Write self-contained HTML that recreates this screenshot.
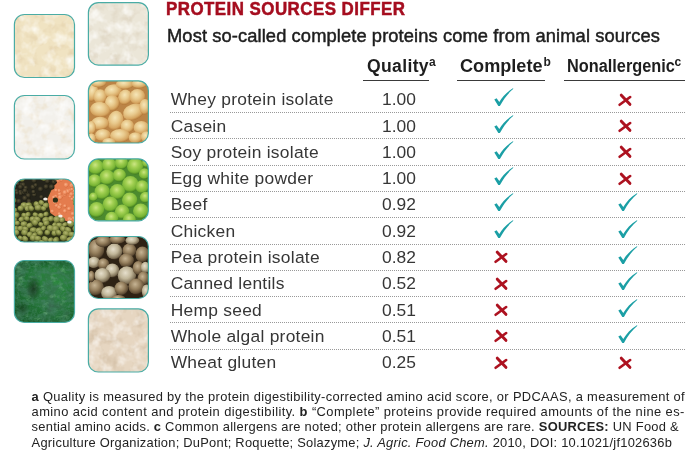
<!DOCTYPE html>
<html><head><meta charset="utf-8">
<style>
*{margin:0;padding:0;box-sizing:border-box}
html,body{width:700px;height:464px;background:#fff;overflow:hidden}
body{position:relative;font-family:"Liberation Sans",Arial,sans-serif;color:#2a2a2a}
.t{position:absolute;white-space:nowrap;line-height:1}
#title{left:166.2px;top:0.1px;font-size:18.8px;font-weight:bold;color:#a50d1f;letter-spacing:0.52px;transform:scaleX(0.9);transform-origin:0 0;-webkit-text-stroke:0.5px #a50d1f}
#sub{left:167px;top:28.2px;font-size:17.6px;color:#1f1f1f;letter-spacing:0.1px;-webkit-text-stroke:0.45px #1a1a1a;transform:scaleX(1.04);transform-origin:0 0}
.h{font-weight:bold;font-size:17.6px;color:#1e1e1e;top:58.3px}
.sp{font-weight:bold;font-size:12px;color:#1e1e1e;top:56.4px}
.ul{position:absolute;height:1.2px;background:#3a3a3a;top:79.6px}
.name{left:170.7px;font-size:17.4px;color:#363636;letter-spacing:0.27px}
.val{left:382px;font-size:17.4px;color:#363636}
.sep{position:absolute;left:170px;width:515px;height:1px;background-image:linear-gradient(to right,#999 50%,transparent 50%);background-size:2px 1px}
.fn{left:31.6px;font-size:12.9px;color:#222}
.mk{position:absolute;overflow:visible}
#tiles{position:absolute;left:0;top:0}
</style></head><body>
<svg id="tiles" width="160" height="380" viewBox="0 0 160 380"><defs>

<radialGradient id="gBean" cx="0.42" cy="0.36" r="0.64"><stop offset="0" stop-color="#f6e6b8"/><stop offset="0.45" stop-color="#e8c98c"/><stop offset="0.8" stop-color="#d6a662"/><stop offset="1" stop-color="#b47a3a"/></radialGradient>
<radialGradient id="gPea" cx="0.45" cy="0.36" r="0.64"><stop offset="0" stop-color="#cce684"/><stop offset="0.35" stop-color="#a2d052"/><stop offset="0.78" stop-color="#78b434"/><stop offset="1" stop-color="#3e7a1e"/></radialGradient>
<radialGradient id="gHempL" cx="0.42" cy="0.36" r="0.64"><stop offset="0" stop-color="#e6dfcc"/><stop offset="0.5" stop-color="#c0b598"/><stop offset="0.88" stop-color="#7c6e54"/><stop offset="1" stop-color="#443626"/></radialGradient>
<radialGradient id="gHempB" cx="0.42" cy="0.36" r="0.64"><stop offset="0" stop-color="#c6b494"/><stop offset="0.5" stop-color="#96805e"/><stop offset="0.88" stop-color="#5e4c34"/><stop offset="1" stop-color="#34281a"/></radialGradient>
<radialGradient id="gLenG" cx="0.42" cy="0.36" r="0.64"><stop offset="0" stop-color="#b2b670"/><stop offset="0.55" stop-color="#8a9248"/><stop offset="1" stop-color="#505626"/></radialGradient>
<radialGradient id="gLenK" cx="0.42" cy="0.38" r="0.62"><stop offset="0" stop-color="#5a5238"/><stop offset="0.7" stop-color="#2e2c1e"/><stop offset="1" stop-color="#1a1a10"/></radialGradient>
<radialGradient id="gLenO" cx="0.42" cy="0.38" r="0.62"><stop offset="0" stop-color="#f8b088"/><stop offset="0.7" stop-color="#ea8456"/><stop offset="1" stop-color="#d06a3c"/></radialGradient>

<filter id="fd_whey" x="0" y="0" width="100%" height="100%"><feTurbulence type="fractalNoise" baseFrequency="0.09" numOctaves="3" seed="11"/><feColorMatrix type="matrix" values="0 0 0 0 0.784 0 0 0 0 0.651 0 0 0 0 0.424 2.6 0 0 0 -1.25"/></filter>
<filter id="fl_whey" x="0" y="0" width="100%" height="100%"><feTurbulence type="fractalNoise" baseFrequency="0.09" numOctaves="3" seed="18"/><feColorMatrix type="matrix" values="0 0 0 0 0.984 0 0 0 0 0.969 0 0 0 0 0.910 2.0 0 0 0 -0.9"/></filter>
<filter id="fd_casein" x="0" y="0" width="100%" height="100%"><feTurbulence type="fractalNoise" baseFrequency="0.09" numOctaves="3" seed="21"/><feColorMatrix type="matrix" values="0 0 0 0 0.831 0 0 0 0 0.737 0 0 0 0 0.573 2.6 0 0 0 -1.25"/></filter>
<filter id="fl_casein" x="0" y="0" width="100%" height="100%"><feTurbulence type="fractalNoise" baseFrequency="0.09" numOctaves="3" seed="28"/><feColorMatrix type="matrix" values="0 0 0 0 1.000 0 0 0 0 1.000 0 0 0 0 1.000 2.0 0 0 0 -0.9"/></filter>
<filter id="fd_soyp" x="0" y="0" width="100%" height="100%"><feTurbulence type="fractalNoise" baseFrequency="0.09" numOctaves="3" seed="31"/><feColorMatrix type="matrix" values="0 0 0 0 0.729 0 0 0 0 0.659 0 0 0 0 0.533 2.5 0 0 0 -1.15"/></filter>
<filter id="fl_soyp" x="0" y="0" width="100%" height="100%"><feTurbulence type="fractalNoise" baseFrequency="0.09" numOctaves="3" seed="38"/><feColorMatrix type="matrix" values="0 0 0 0 0.980 0 0 0 0 0.973 0 0 0 0 0.949 2.0 0 0 0 -0.9"/></filter>
<filter id="fd_glut" x="0" y="0" width="100%" height="100%"><feTurbulence type="fractalNoise" baseFrequency="0.09" numOctaves="3" seed="41"/><feColorMatrix type="matrix" values="0 0 0 0 0.675 0 0 0 0 0.549 0 0 0 0 0.408 2.6 0 0 0 -1.2"/></filter>
<filter id="fl_glut" x="0" y="0" width="100%" height="100%"><feTurbulence type="fractalNoise" baseFrequency="0.09" numOctaves="3" seed="48"/><feColorMatrix type="matrix" values="0 0 0 0 0.965 0 0 0 0 0.933 0 0 0 0 0.894 2.0 0 0 0 -0.9"/></filter>
<filter id="fs1" x="0" y="0" width="100%" height="100%"><feTurbulence type="fractalNoise" baseFrequency="0.12 0.2" numOctaves="4" seed="5"/><feColorMatrix type="matrix" values="0 0 0 0 0.039 0 0 0 0 0.196 0 0 0 0 0.086 2.4 0 0 0 -0.95"/></filter>
<filter id="fs2" x="0" y="0" width="100%" height="100%"><feTurbulence type="fractalNoise" baseFrequency="0.12 0.2" numOctaves="4" seed="9"/><feColorMatrix type="matrix" values="0 0 0 0 0.235 0 0 0 0 0.549 0 0 0 0 0.282 1.6 0 0 0 -0.95"/></filter>
<filter id="fs3" x="0" y="0" width="100%" height="100%"><feTurbulence type="fractalNoise" baseFrequency="0.07" numOctaves="2" seed="13"/><feColorMatrix type="matrix" values="0 0 0 0 0.039 0 0 0 0 0.141 0 0 0 0 0.078 2.8 0 0 0 -1.3"/></filter>
<filter id="fs4" x="0" y="0" width="100%" height="100%"><feTurbulence type="fractalNoise" baseFrequency="0.35" numOctaves="2" seed="17"/><feColorMatrix type="matrix" values="0 0 0 0 0.055 0 0 0 0 0.220 0 0 0 0 0.118 1.8 0 0 0 -0.8"/></filter>
<radialGradient id="gSpir" cx="0.66" cy="0.34" r="0.85"><stop offset="0" stop-color="#2c883e"/><stop offset="0.55" stop-color="#217234"/><stop offset="1" stop-color="#155626"/></radialGradient>
<radialGradient id="gSpirD" cx="0.5" cy="0.5" r="0.5"><stop offset="0" stop-color="#142c18" stop-opacity="0.75"/><stop offset="1" stop-color="#142c18" stop-opacity="0"/></radialGradient>
<linearGradient id="gSpirT" x1="0" y1="0" x2="0" y2="1"><stop offset="0" stop-color="#124a26" stop-opacity="0.7"/><stop offset="1" stop-color="#124a26" stop-opacity="0"/></linearGradient>
<clipPath id="c_whey"><rect x="14.4" y="14.5" width="60.1" height="63.0" rx="10"/></clipPath>
<clipPath id="c_casein"><rect x="14.4" y="95.5" width="60.1" height="63.5" rx="10"/></clipPath>
<clipPath id="c_lentil"><rect x="14.4" y="179.0" width="60.1" height="63.0" rx="10"/></clipPath>
<clipPath id="c_spir"><rect x="14.4" y="260.5" width="60.1" height="62.0" rx="10"/></clipPath>
<clipPath id="c_soyp"><rect x="88.4" y="2.6" width="60.0" height="62.5" rx="10"/></clipPath>
<clipPath id="c_soyb"><rect x="88.4" y="80.8" width="60.0" height="62.2" rx="10"/></clipPath>
<clipPath id="c_pea"><rect x="88.4" y="158.8" width="60.0" height="62.0" rx="10"/></clipPath>
<clipPath id="c_hemp"><rect x="88.4" y="236.5" width="60.0" height="62.0" rx="10"/></clipPath>
<clipPath id="c_glut"><rect x="88.4" y="308.8" width="60.0" height="63.2" rx="10"/></clipPath>
</defs>
<g clip-path="url(#c_whey)"><rect x="14.4" y="14.5" width="60.1" height="63.0" fill="#f0e3c2"/><rect x="14.4" y="14.5" width="60.1" height="63.0" filter="url(#fd_whey)"/><rect x="14.4" y="14.5" width="60.1" height="63.0" filter="url(#fl_whey)"/></g>
<rect x="14.4" y="14.5" width="60.1" height="63.0" rx="10" fill="none" stroke="#4aaca5" stroke-width="1.2"/>
<g clip-path="url(#c_casein)"><rect x="14.4" y="95.5" width="60.1" height="63.5" fill="#f3f1ec"/><rect x="14.4" y="95.5" width="60.1" height="63.5" filter="url(#fd_casein)"/><rect x="14.4" y="95.5" width="60.1" height="63.5" filter="url(#fl_casein)"/></g>
<rect x="14.4" y="95.5" width="60.1" height="63.5" rx="10" fill="none" stroke="#4aaca5" stroke-width="1.2"/>
<g clip-path="url(#c_lentil)"><rect x="14.4" y="179.0" width="60.1" height="63.0" fill="#2e3216"/><polygon points="14.4,179.0 60.4,179.0 51.4,188.0 46.4,199.0 40.4,200.0 28.4,203.0 14.4,207.0" fill="#24231a"/><polygon points="59.4,179.0 75.4,179.0 75.4,224.0 66.4,221.0 57.4,218.0 50.4,213.0 47.4,199.0 52.4,188.0" fill="#e47c4e"/><circle cx="33.1" cy="187.1" r="2.7" fill="url(#gLenK)"/><circle cx="54.1" cy="181.9" r="2.6" fill="url(#gLenK)"/><circle cx="14.8" cy="206.1" r="2.5" fill="url(#gLenK)"/><circle cx="16.9" cy="183.1" r="2.3" fill="url(#gLenK)"/><circle cx="20.3" cy="192.0" r="2.3" fill="url(#gLenK)"/><circle cx="21.6" cy="184.9" r="2.3" fill="url(#gLenK)"/><circle cx="47.5" cy="181.2" r="2.6" fill="url(#gLenK)"/><circle cx="16.2" cy="190.8" r="2.1" fill="url(#gLenK)"/><circle cx="41.4" cy="197.1" r="2.2" fill="url(#gLenK)"/><circle cx="23.2" cy="184.8" r="2.6" fill="url(#gLenK)"/><circle cx="20.7" cy="193.6" r="2.2" fill="url(#gLenK)"/><circle cx="23.7" cy="192.5" r="2.1" fill="url(#gLenK)"/><circle cx="55.7" cy="180.6" r="2.0" fill="url(#gLenK)"/><circle cx="16.4" cy="181.5" r="2.4" fill="url(#gLenK)"/><circle cx="25.8" cy="187.9" r="2.3" fill="url(#gLenK)"/><circle cx="34.2" cy="180.5" r="2.8" fill="url(#gLenK)"/><circle cx="18.9" cy="201.4" r="2.7" fill="url(#gLenK)"/><circle cx="51.7" cy="187.0" r="2.8" fill="url(#gLenK)"/><circle cx="28.5" cy="200.3" r="2.2" fill="url(#gLenK)"/><circle cx="35.7" cy="185.2" r="2.1" fill="url(#gLenK)"/><circle cx="17.9" cy="183.8" r="2.1" fill="url(#gLenK)"/><circle cx="34.3" cy="194.7" r="2.4" fill="url(#gLenK)"/><circle cx="46.2" cy="186.8" r="2.6" fill="url(#gLenK)"/><circle cx="29.1" cy="201.6" r="2.4" fill="url(#gLenK)"/><circle cx="33.5" cy="191.9" r="2.2" fill="url(#gLenK)"/><circle cx="26.5" cy="192.2" r="2.3" fill="url(#gLenK)"/><circle cx="25.0" cy="190.7" r="2.5" fill="url(#gLenK)"/><circle cx="20.5" cy="187.1" r="2.5" fill="url(#gLenK)"/><circle cx="28.5" cy="196.6" r="2.6" fill="url(#gLenK)"/><circle cx="40.6" cy="189.3" r="2.7" fill="url(#gLenK)"/><circle cx="28.3" cy="195.6" r="2.5" fill="url(#gLenK)"/><circle cx="17.0" cy="193.1" r="2.1" fill="url(#gLenK)"/><circle cx="24.9" cy="198.3" r="2.7" fill="url(#gLenK)"/><circle cx="52.3" cy="211.3" r="1.8" fill="url(#gLenO)"/><circle cx="64.8" cy="194.3" r="2.1" fill="url(#gLenO)"/><circle cx="56.4" cy="205.5" r="1.9" fill="url(#gLenO)"/><circle cx="61.0" cy="196.4" r="2.2" fill="url(#gLenO)"/><circle cx="59.3" cy="213.9" r="1.8" fill="url(#gLenO)"/><circle cx="72.2" cy="184.1" r="1.8" fill="url(#gLenO)"/><circle cx="64.8" cy="206.0" r="1.8" fill="url(#gLenO)"/><circle cx="74.6" cy="213.7" r="1.7" fill="url(#gLenO)"/><circle cx="69.5" cy="219.0" r="2.3" fill="url(#gLenO)"/><circle cx="59.6" cy="193.9" r="2.1" fill="url(#gLenO)"/><circle cx="59.1" cy="190.7" r="1.9" fill="url(#gLenO)"/><circle cx="61.5" cy="218.3" r="1.9" fill="url(#gLenO)"/><circle cx="60.0" cy="197.4" r="2.4" fill="url(#gLenO)"/><circle cx="55.6" cy="196.5" r="2.0" fill="url(#gLenO)"/><circle cx="69.6" cy="190.3" r="1.8" fill="url(#gLenO)"/><circle cx="73.4" cy="185.9" r="2.2" fill="url(#gLenO)"/><circle cx="64.9" cy="211.1" r="2.1" fill="url(#gLenO)"/><circle cx="66.1" cy="185.0" r="2.4" fill="url(#gLenO)"/><circle cx="70.1" cy="196.4" r="1.7" fill="url(#gLenO)"/><circle cx="72.6" cy="213.8" r="2.0" fill="url(#gLenO)"/><circle cx="58.5" cy="180.3" r="2.3" fill="url(#gLenO)"/><circle cx="59.3" cy="207.2" r="2.3" fill="url(#gLenO)"/><circle cx="71.7" cy="185.5" r="2.3" fill="url(#gLenO)"/><circle cx="74.9" cy="194.4" r="1.6" fill="url(#gLenO)"/><circle cx="54.4" cy="197.2" r="1.8" fill="url(#gLenO)"/><circle cx="60.4" cy="204.7" r="1.7" fill="url(#gLenO)"/><circle cx="74.3" cy="185.4" r="1.8" fill="url(#gLenO)"/><circle cx="67.6" cy="191.5" r="2.4" fill="url(#gLenO)"/><circle cx="69.7" cy="208.7" r="2.1" fill="url(#gLenO)"/><circle cx="74.6" cy="193.6" r="2.3" fill="url(#gLenO)"/><circle cx="53.7" cy="197.4" r="1.9" fill="url(#gLenO)"/><circle cx="73.8" cy="220.2" r="2.3" fill="url(#gLenO)"/><circle cx="69.0" cy="208.8" r="2.0" fill="url(#gLenO)"/><circle cx="56.1" cy="190.3" r="1.8" fill="url(#gLenO)"/><circle cx="74.5" cy="197.9" r="2.2" fill="url(#gLenO)"/><circle cx="64.9" cy="192.5" r="2.4" fill="url(#gLenO)"/><circle cx="72.0" cy="199.1" r="1.7" fill="url(#gLenO)"/><circle cx="60.2" cy="179.1" r="2.1" fill="url(#gLenO)"/><circle cx="54.9" cy="202.4" r="2.1" fill="url(#gLenO)"/><circle cx="73.6" cy="185.3" r="1.8" fill="url(#gLenO)"/><circle cx="74.1" cy="190.9" r="1.9" fill="url(#gLenO)"/><circle cx="65.0" cy="206.0" r="1.7" fill="url(#gLenO)"/><circle cx="69.8" cy="179.0" r="1.8" fill="url(#gLenO)"/><circle cx="61.5" cy="179.7" r="1.8" fill="url(#gLenO)"/><circle cx="71.3" cy="194.2" r="2.1" fill="url(#gLenO)"/><circle cx="73.7" cy="218.3" r="2.1" fill="url(#gLenO)"/><circle cx="71.1" cy="219.5" r="1.8" fill="url(#gLenO)"/><circle cx="71.8" cy="189.3" r="1.6" fill="url(#gLenO)"/><ellipse cx="14.3" cy="179.2" rx="3.6" ry="3.0" transform="rotate(-33 14.3 179.2)" fill="url(#gLenG)"/><ellipse cx="21.7" cy="178.9" rx="3.1" ry="2.7" transform="rotate(21 21.7 178.9)" fill="url(#gLenG)"/><ellipse cx="43.2" cy="178.4" rx="3.2" ry="2.4" transform="rotate(25 43.2 178.4)" fill="url(#gLenG)"/><ellipse cx="57.0" cy="177.6" rx="2.7" ry="2.4" transform="rotate(-26 57.0 177.6)" fill="url(#gLenG)"/><ellipse cx="73.4" cy="177.5" rx="3.0" ry="2.7" transform="rotate(-29 73.4 177.5)" fill="url(#gLenG)"/><ellipse cx="76.8" cy="182.7" rx="2.8" ry="2.4" transform="rotate(18 76.8 182.7)" fill="url(#gLenG)"/><ellipse cx="78.5" cy="194.4" rx="3.6" ry="3.2" transform="rotate(36 78.5 194.4)" fill="url(#gLenG)"/><ellipse cx="13.2" cy="200.5" rx="3.2" ry="3.0" transform="rotate(-33 13.2 200.5)" fill="url(#gLenG)"/><ellipse cx="75.6" cy="200.0" rx="2.9" ry="2.5" transform="rotate(-17 75.6 200.0)" fill="url(#gLenG)"/><ellipse cx="24.1" cy="205.3" rx="3.5" ry="3.0" transform="rotate(2 24.1 205.3)" fill="url(#gLenG)"/><ellipse cx="28.5" cy="205.4" rx="3.6" ry="3.1" transform="rotate(-15 28.5 205.4)" fill="url(#gLenG)"/><ellipse cx="36.5" cy="204.3" rx="3.1" ry="2.8" transform="rotate(32 36.5 204.3)" fill="url(#gLenG)"/><ellipse cx="41.2" cy="202.8" rx="2.8" ry="2.6" transform="rotate(37 41.2 202.8)" fill="url(#gLenG)"/><ellipse cx="46.0" cy="205.4" rx="3.2" ry="2.8" transform="rotate(-24 46.0 205.4)" fill="url(#gLenG)"/><ellipse cx="76.1" cy="203.2" rx="3.2" ry="2.8" transform="rotate(8 76.1 203.2)" fill="url(#gLenG)"/><ellipse cx="14.6" cy="210.1" rx="2.6" ry="2.5" transform="rotate(1 14.6 210.1)" fill="url(#gLenG)"/><ellipse cx="20.7" cy="208.3" rx="3.1" ry="2.8" transform="rotate(5 20.7 208.3)" fill="url(#gLenG)"/><ellipse cx="27.7" cy="208.1" rx="3.2" ry="2.8" transform="rotate(-35 27.7 208.1)" fill="url(#gLenG)"/><ellipse cx="30.9" cy="208.3" rx="3.2" ry="2.7" transform="rotate(37 30.9 208.3)" fill="url(#gLenG)"/><ellipse cx="38.2" cy="207.7" rx="3.7" ry="3.0" transform="rotate(-2 38.2 207.7)" fill="url(#gLenG)"/><ellipse cx="43.4" cy="208.6" rx="2.8" ry="2.3" transform="rotate(25 43.4 208.6)" fill="url(#gLenG)"/><ellipse cx="16.0" cy="215.2" rx="3.7" ry="3.1" transform="rotate(-15 16.0 215.2)" fill="url(#gLenG)"/><ellipse cx="24.0" cy="215.4" rx="2.8" ry="2.5" transform="rotate(34 24.0 215.4)" fill="url(#gLenG)"/><ellipse cx="28.0" cy="214.4" rx="2.8" ry="2.5" transform="rotate(-38 28.0 214.4)" fill="url(#gLenG)"/><ellipse cx="35.3" cy="214.7" rx="2.8" ry="2.3" transform="rotate(15 35.3 214.7)" fill="url(#gLenG)"/><ellipse cx="40.9" cy="215.5" rx="3.0" ry="2.5" transform="rotate(10 40.9 215.5)" fill="url(#gLenG)"/><ellipse cx="46.1" cy="214.1" rx="2.7" ry="2.4" transform="rotate(-30 46.1 214.1)" fill="url(#gLenG)"/><ellipse cx="78.6" cy="215.1" rx="3.2" ry="2.6" transform="rotate(-24 78.6 215.1)" fill="url(#gLenG)"/><ellipse cx="14.2" cy="219.9" rx="3.2" ry="2.7" transform="rotate(-10 14.2 219.9)" fill="url(#gLenG)"/><ellipse cx="21.5" cy="219.2" rx="3.1" ry="2.6" transform="rotate(-27 21.5 219.2)" fill="url(#gLenG)"/><ellipse cx="26.8" cy="218.6" rx="2.8" ry="2.5" transform="rotate(11 26.8 218.6)" fill="url(#gLenG)"/><ellipse cx="32.6" cy="219.3" rx="3.2" ry="3.0" transform="rotate(9 32.6 219.3)" fill="url(#gLenG)"/><ellipse cx="37.1" cy="219.4" rx="3.6" ry="2.9" transform="rotate(19 37.1 219.4)" fill="url(#gLenG)"/><ellipse cx="45.9" cy="220.1" rx="3.6" ry="3.3" transform="rotate(-15 45.9 220.1)" fill="url(#gLenG)"/><ellipse cx="51.1" cy="218.7" rx="3.0" ry="2.8" transform="rotate(-23 51.1 218.7)" fill="url(#gLenG)"/><ellipse cx="57.1" cy="219.2" rx="3.8" ry="3.5" transform="rotate(-29 57.1 219.2)" fill="url(#gLenG)"/><ellipse cx="62.2" cy="220.0" rx="2.9" ry="2.6" transform="rotate(-19 62.2 220.0)" fill="url(#gLenG)"/><ellipse cx="17.3" cy="223.2" rx="2.7" ry="2.5" transform="rotate(-6 17.3 223.2)" fill="url(#gLenG)"/><ellipse cx="24.0" cy="224.0" rx="3.5" ry="2.8" transform="rotate(-8 24.0 224.0)" fill="url(#gLenG)"/><ellipse cx="29.7" cy="225.3" rx="3.4" ry="2.6" transform="rotate(-24 29.7 225.3)" fill="url(#gLenG)"/><ellipse cx="34.7" cy="222.5" rx="3.4" ry="3.2" transform="rotate(37 34.7 222.5)" fill="url(#gLenG)"/><ellipse cx="40.8" cy="224.5" rx="2.7" ry="2.3" transform="rotate(21 40.8 224.5)" fill="url(#gLenG)"/><ellipse cx="46.5" cy="223.0" rx="3.2" ry="2.8" transform="rotate(-25 46.5 223.0)" fill="url(#gLenG)"/><ellipse cx="54.6" cy="224.5" rx="2.7" ry="2.1" transform="rotate(-37 54.6 224.5)" fill="url(#gLenG)"/><ellipse cx="59.2" cy="225.2" rx="3.3" ry="2.8" transform="rotate(5 59.2 225.2)" fill="url(#gLenG)"/><ellipse cx="64.9" cy="224.5" rx="2.8" ry="2.2" transform="rotate(-24 64.9 224.5)" fill="url(#gLenG)"/><ellipse cx="70.5" cy="223.8" rx="3.6" ry="3.4" transform="rotate(34 70.5 223.8)" fill="url(#gLenG)"/><ellipse cx="78.3" cy="225.2" rx="2.7" ry="2.1" transform="rotate(36 78.3 225.2)" fill="url(#gLenG)"/><ellipse cx="15.5" cy="228.7" rx="3.2" ry="2.8" transform="rotate(-14 15.5 228.7)" fill="url(#gLenG)"/><ellipse cx="20.6" cy="228.4" rx="3.2" ry="2.7" transform="rotate(-6 20.6 228.4)" fill="url(#gLenG)"/><ellipse cx="25.3" cy="229.0" rx="3.3" ry="2.5" transform="rotate(16 25.3 229.0)" fill="url(#gLenG)"/><ellipse cx="33.4" cy="230.0" rx="3.6" ry="2.8" transform="rotate(-4 33.4 230.0)" fill="url(#gLenG)"/><ellipse cx="39.0" cy="230.4" rx="3.5" ry="2.9" transform="rotate(-24 39.0 230.4)" fill="url(#gLenG)"/><ellipse cx="43.7" cy="228.0" rx="2.8" ry="2.4" transform="rotate(-39 43.7 228.0)" fill="url(#gLenG)"/><ellipse cx="50.3" cy="228.3" rx="3.7" ry="3.3" transform="rotate(16 50.3 228.3)" fill="url(#gLenG)"/><ellipse cx="55.5" cy="228.7" rx="3.6" ry="3.2" transform="rotate(-8 55.5 228.7)" fill="url(#gLenG)"/><ellipse cx="62.8" cy="229.0" rx="3.3" ry="2.8" transform="rotate(39 62.8 229.0)" fill="url(#gLenG)"/><ellipse cx="67.8" cy="230.0" rx="3.6" ry="2.9" transform="rotate(33 67.8 230.0)" fill="url(#gLenG)"/><ellipse cx="75.8" cy="228.9" rx="3.5" ry="3.2" transform="rotate(25 75.8 228.9)" fill="url(#gLenG)"/><ellipse cx="16.1" cy="232.6" rx="3.1" ry="2.9" transform="rotate(30 16.1 232.6)" fill="url(#gLenG)"/><ellipse cx="24.5" cy="232.6" rx="3.4" ry="3.1" transform="rotate(21 24.5 232.6)" fill="url(#gLenG)"/><ellipse cx="30.0" cy="234.2" rx="3.1" ry="2.8" transform="rotate(-34 30.0 234.2)" fill="url(#gLenG)"/><ellipse cx="34.8" cy="234.9" rx="3.0" ry="2.5" transform="rotate(-39 34.8 234.9)" fill="url(#gLenG)"/><ellipse cx="40.0" cy="232.9" rx="3.0" ry="2.7" transform="rotate(10 40.0 232.9)" fill="url(#gLenG)"/><ellipse cx="47.3" cy="232.6" rx="2.9" ry="2.7" transform="rotate(13 47.3 232.6)" fill="url(#gLenG)"/><ellipse cx="54.4" cy="233.2" rx="3.0" ry="2.7" transform="rotate(6 54.4 233.2)" fill="url(#gLenG)"/><ellipse cx="58.3" cy="232.6" rx="3.2" ry="2.7" transform="rotate(40 58.3 232.6)" fill="url(#gLenG)"/><ellipse cx="65.8" cy="233.8" rx="3.4" ry="3.0" transform="rotate(21 65.8 233.8)" fill="url(#gLenG)"/><ellipse cx="71.8" cy="234.5" rx="3.8" ry="2.8" transform="rotate(9 71.8 234.5)" fill="url(#gLenG)"/><ellipse cx="78.3" cy="235.4" rx="3.5" ry="2.8" transform="rotate(-8 78.3 235.4)" fill="url(#gLenG)"/><ellipse cx="15.0" cy="238.1" rx="2.7" ry="2.1" transform="rotate(-10 15.0 238.1)" fill="url(#gLenG)"/><ellipse cx="20.3" cy="238.0" rx="2.7" ry="2.2" transform="rotate(32 20.3 238.0)" fill="url(#gLenG)"/><ellipse cx="24.9" cy="238.9" rx="3.3" ry="2.8" transform="rotate(37 24.9 238.9)" fill="url(#gLenG)"/><ellipse cx="33.0" cy="238.0" rx="3.3" ry="3.1" transform="rotate(11 33.0 238.0)" fill="url(#gLenG)"/><ellipse cx="37.7" cy="238.5" rx="3.6" ry="2.7" transform="rotate(8 37.7 238.5)" fill="url(#gLenG)"/><ellipse cx="45.0" cy="239.1" rx="3.5" ry="2.7" transform="rotate(34 45.0 239.1)" fill="url(#gLenG)"/><ellipse cx="50.7" cy="239.8" rx="2.8" ry="2.4" transform="rotate(-26 50.7 239.8)" fill="url(#gLenG)"/><ellipse cx="56.1" cy="239.9" rx="3.2" ry="2.8" transform="rotate(-35 56.1 239.9)" fill="url(#gLenG)"/><ellipse cx="63.6" cy="237.8" rx="3.7" ry="3.1" transform="rotate(2 63.6 237.8)" fill="url(#gLenG)"/><ellipse cx="69.7" cy="239.7" rx="3.3" ry="2.7" transform="rotate(-17 69.7 239.7)" fill="url(#gLenG)"/><ellipse cx="73.3" cy="238.9" rx="3.4" ry="2.9" transform="rotate(-17 73.3 238.9)" fill="url(#gLenG)"/><ellipse cx="17.8" cy="245.2" rx="3.5" ry="2.8" transform="rotate(-39 17.8 245.2)" fill="url(#gLenG)"/><ellipse cx="23.0" cy="244.2" rx="2.9" ry="2.2" transform="rotate(-27 23.0 244.2)" fill="url(#gLenG)"/><ellipse cx="30.5" cy="244.9" rx="3.5" ry="2.9" transform="rotate(32 30.5 244.9)" fill="url(#gLenG)"/><ellipse cx="36.7" cy="243.9" rx="3.5" ry="2.7" transform="rotate(39 36.7 243.9)" fill="url(#gLenG)"/><ellipse cx="41.9" cy="243.1" rx="3.7" ry="2.9" transform="rotate(32 41.9 243.1)" fill="url(#gLenG)"/><ellipse cx="48.1" cy="245.0" rx="3.1" ry="2.6" transform="rotate(38 48.1 245.0)" fill="url(#gLenG)"/><ellipse cx="53.8" cy="244.7" rx="2.9" ry="2.5" transform="rotate(35 53.8 244.7)" fill="url(#gLenG)"/><ellipse cx="58.5" cy="245.2" rx="3.5" ry="2.9" transform="rotate(38 58.5 245.2)" fill="url(#gLenG)"/><ellipse cx="66.8" cy="245.4" rx="3.6" ry="3.1" transform="rotate(-31 66.8 245.4)" fill="url(#gLenG)"/><ellipse cx="71.5" cy="244.9" rx="3.3" ry="2.8" transform="rotate(-24 71.5 244.9)" fill="url(#gLenG)"/><ellipse cx="76.9" cy="245.2" rx="2.7" ry="2.3" transform="rotate(-30 76.9 245.2)" fill="url(#gLenG)"/><ellipse cx="45.4" cy="199.0" rx="2.2" ry="1.6" fill="#f4efe8"/><ellipse cx="60.4" cy="216.0" rx="2.2" ry="1.6" fill="#f4efe8"/><ellipse cx="69.4" cy="222.0" rx="2.2" ry="1.6" fill="#f4efe8"/><circle cx="55.4" cy="200.0" r="2.6" fill="#2a3018"/></g>
<rect x="14.4" y="179.0" width="60.1" height="63.0" rx="10" fill="none" stroke="#4aaca5" stroke-width="1.2"/>
<g clip-path="url(#c_spir)"><rect x="14.4" y="260.5" width="60.1" height="62.0" fill="url(#gSpir)"/><rect x="14.4" y="260.5" width="60.1" height="9" fill="url(#gSpirT)"/><rect x="14.4" y="260.5" width="60.1" height="62.0" filter="url(#fs3)"/><rect x="14.4" y="260.5" width="60.1" height="62.0" filter="url(#fs1)"/><rect x="14.4" y="260.5" width="60.1" height="62.0" filter="url(#fs2)"/><rect x="14.4" y="260.5" width="60.1" height="62.0" filter="url(#fs4)"/><ellipse cx="33.4" cy="288.5" rx="8" ry="13" fill="url(#gSpirD)"/><ellipse cx="22.4" cy="308.5" rx="7" ry="8" fill="url(#gSpirD)" opacity="0.6"/></g>
<rect x="14.4" y="260.5" width="60.1" height="62.0" rx="10" fill="none" stroke="#4aaca5" stroke-width="1.2"/>
<g clip-path="url(#c_soyp)"><rect x="88.4" y="2.6" width="60.0" height="62.5" fill="#ebe6d8"/><rect x="88.4" y="2.6" width="60.0" height="62.5" filter="url(#fd_soyp)"/><rect x="88.4" y="2.6" width="60.0" height="62.5" filter="url(#fl_soyp)"/></g>
<rect x="88.4" y="2.6" width="60.0" height="62.5" rx="10" fill="none" stroke="#4aaca5" stroke-width="1.2"/>
<g clip-path="url(#c_soyb)"><rect x="88.4" y="80.8" width="60.0" height="62.2" fill="#bb8446"/><ellipse cx="92.4" cy="92.8" rx="5.6" ry="9.0" transform="rotate(10 92.4 92.8)" fill="url(#gBean)"/><ellipse cx="100.1" cy="96.6" rx="6.7" ry="7.3" transform="rotate(0 100.1 96.6)" fill="url(#gBean)"/><ellipse cx="113.2" cy="91.1" rx="9.0" ry="6.7" transform="rotate(-10 113.2 91.1)" fill="url(#gBean)"/><ellipse cx="124.9" cy="97.3" rx="6.7" ry="7.8" transform="rotate(20 124.9 97.3)" fill="url(#gBean)"/><ellipse cx="137.4" cy="96.8" rx="7.8" ry="7.8" transform="rotate(0 137.4 96.8)" fill="url(#gBean)"/><ellipse cx="124.9" cy="84.3" rx="9.0" ry="5.0" transform="rotate(0 124.9 84.3)" fill="url(#gBean)"/><ellipse cx="139.4" cy="83.8" rx="7.8" ry="4.5" transform="rotate(0 139.4 83.8)" fill="url(#gBean)"/><ellipse cx="98.4" cy="82.8" rx="7.8" ry="4.5" transform="rotate(0 98.4 82.8)" fill="url(#gBean)"/><ellipse cx="112.4" cy="102.8" rx="7.3" ry="7.8" transform="rotate(-20 112.4 102.8)" fill="url(#gBean)"/><ellipse cx="100.1" cy="109.8" rx="10.1" ry="7.8" transform="rotate(10 100.1 109.8)" fill="url(#gBean)"/><ellipse cx="115.4" cy="120.8" rx="7.8" ry="10.1" transform="rotate(15 115.4 120.8)" fill="url(#gBean)"/><ellipse cx="133.9" cy="111.8" rx="11.2" ry="7.8" transform="rotate(-20 133.9 111.8)" fill="url(#gBean)"/><ellipse cx="144.9" cy="106.8" rx="5.6" ry="7.8" transform="rotate(0 144.9 106.8)" fill="url(#gBean)"/><ellipse cx="100.1" cy="123.5" rx="9.0" ry="6.7" transform="rotate(0 100.1 123.5)" fill="url(#gBean)"/><ellipse cx="127.4" cy="126.3" rx="6.7" ry="6.7" transform="rotate(0 127.4 126.3)" fill="url(#gBean)"/><ellipse cx="141.4" cy="127.8" rx="7.8" ry="6.7" transform="rotate(0 141.4 127.8)" fill="url(#gBean)"/><ellipse cx="102.9" cy="135.2" rx="7.8" ry="6.2" transform="rotate(0 102.9 135.2)" fill="url(#gBean)"/><ellipse cx="120.1" cy="135.8" rx="10.1" ry="6.7" transform="rotate(0 120.1 135.8)" fill="url(#gBean)"/><ellipse cx="91.4" cy="127.8" rx="4.5" ry="6.7" transform="rotate(0 91.4 127.8)" fill="url(#gBean)"/><ellipse cx="135.4" cy="137.8" rx="6.7" ry="5.6" transform="rotate(0 135.4 137.8)" fill="url(#gBean)"/><ellipse cx="109.1" cy="141.8" rx="6.7" ry="3.9" transform="rotate(0 109.1 141.8)" fill="url(#gBean)"/><ellipse cx="91.4" cy="138.8" rx="4.5" ry="5.6" transform="rotate(0 91.4 138.8)" fill="url(#gBean)"/><ellipse cx="146.4" cy="136.8" rx="5.6" ry="5.6" transform="rotate(0 146.4 136.8)" fill="url(#gBean)"/></g>
<rect x="88.4" y="80.8" width="60.0" height="62.2" rx="10" fill="none" stroke="#4aaca5" stroke-width="1.2"/>
<g clip-path="url(#c_pea)"><rect x="88.4" y="158.8" width="60.0" height="62.0" fill="#4c8a2e"/><circle cx="96.0" cy="167.1" r="7.7" fill="url(#gPea)"/><circle cx="109.1" cy="165.0" r="7.2" fill="url(#gPea)"/><circle cx="121.4" cy="162.8" r="6.6" fill="url(#gPea)"/><circle cx="135.2" cy="166.4" r="8.2" fill="url(#gPea)"/><circle cx="107.0" cy="177.4" r="7.7" fill="url(#gPea)"/><circle cx="119.4" cy="175.3" r="6.6" fill="url(#gPea)"/><circle cx="94.6" cy="180.8" r="6.6" fill="url(#gPea)"/><circle cx="130.4" cy="184.3" r="8.2" fill="url(#gPea)"/><circle cx="142.1" cy="186.8" r="6.6" fill="url(#gPea)"/><circle cx="102.2" cy="191.8" r="7.7" fill="url(#gPea)"/><circle cx="117.4" cy="191.8" r="7.7" fill="url(#gPea)"/><circle cx="129.7" cy="200.1" r="7.7" fill="url(#gPea)"/><circle cx="110.4" cy="204.3" r="7.7" fill="url(#gPea)"/><circle cx="96.7" cy="209.8" r="7.7" fill="url(#gPea)"/><circle cx="122.1" cy="211.8" r="7.2" fill="url(#gPea)"/><circle cx="140.7" cy="211.1" r="7.7" fill="url(#gPea)"/><circle cx="145.4" cy="197.3" r="5.5" fill="url(#gPea)"/><circle cx="144.4" cy="173.8" r="5.5" fill="url(#gPea)"/><circle cx="111.8" cy="218.3" r="6.6" fill="url(#gPea)"/><circle cx="129.4" cy="219.8" r="6.6" fill="url(#gPea)"/><circle cx="93.4" cy="196.8" r="4.4" fill="url(#gPea)"/><circle cx="146.4" cy="162.8" r="4.4" fill="url(#gPea)"/></g>
<rect x="88.4" y="158.8" width="60.0" height="62.0" rx="10" fill="none" stroke="#4aaca5" stroke-width="1.2"/>
<g clip-path="url(#c_hemp)"><rect x="88.4" y="236.5" width="60.0" height="62.0" fill="#2e2214"/><ellipse cx="96.4" cy="249.5" rx="8.0" ry="10.3" fill="url(#gHempB)"/><ellipse cx="114.4" cy="251.5" rx="8.0" ry="8.0" fill="url(#gHempL)"/><ellipse cx="129.4" cy="250.5" rx="6.9" ry="6.9" fill="url(#gHempB)"/><ellipse cx="142.4" cy="254.5" rx="6.9" ry="8.0" fill="url(#gHempB)"/><ellipse cx="103.4" cy="241.5" rx="8.0" ry="5.8" fill="url(#gHempB)"/><ellipse cx="117.4" cy="239.5" rx="8.0" ry="4.6" fill="url(#gHempB)"/><ellipse cx="132.4" cy="240.5" rx="6.9" ry="4.6" fill="url(#gHempL)"/><ellipse cx="93.9" cy="262.5" rx="6.3" ry="5.8" fill="url(#gHempL)"/><ellipse cx="103.4" cy="264.0" rx="5.8" ry="5.8" fill="url(#gHempB)"/><ellipse cx="126.4" cy="260.5" rx="7.5" ry="6.9" fill="url(#gHempB)"/><ellipse cx="112.4" cy="270.5" rx="6.9" ry="6.9" fill="url(#gHempL)"/><ellipse cx="102.4" cy="275.5" rx="8.0" ry="7.5" fill="url(#gHempL)"/><ellipse cx="126.9" cy="275.5" rx="9.2" ry="9.2" fill="url(#gHempL)"/><ellipse cx="138.4" cy="268.0" rx="5.8" ry="6.9" fill="url(#gHempB)"/><ellipse cx="145.4" cy="267.5" rx="4.6" ry="5.8" fill="url(#gHempL)"/><ellipse cx="143.4" cy="278.5" rx="5.8" ry="6.9" fill="url(#gHempB)"/><ellipse cx="95.9" cy="287.5" rx="8.0" ry="8.0" fill="url(#gHempB)"/><ellipse cx="109.1" cy="293.0" rx="8.0" ry="6.9" fill="url(#gHempL)"/><ellipse cx="121.4" cy="288.5" rx="6.9" ry="6.9" fill="url(#gHempB)"/><ellipse cx="136.4" cy="286.5" rx="8.0" ry="8.0" fill="url(#gHempB)"/><ellipse cx="146.4" cy="291.5" rx="4.6" ry="6.9" fill="url(#gHempL)"/><ellipse cx="118.4" cy="298.5" rx="6.9" ry="3.4" fill="url(#gHempB)"/><ellipse cx="91.4" cy="276.5" rx="3.4" ry="5.8" fill="url(#gHempB)"/></g>
<rect x="88.4" y="236.5" width="60.0" height="62.0" rx="10" fill="none" stroke="#4aaca5" stroke-width="1.2"/>
<g clip-path="url(#c_glut)"><rect x="88.4" y="308.8" width="60.0" height="63.2" fill="#e6d6c1"/><rect x="88.4" y="308.8" width="60.0" height="63.2" filter="url(#fd_glut)"/><rect x="88.4" y="308.8" width="60.0" height="63.2" filter="url(#fl_glut)"/></g>
<rect x="88.4" y="308.8" width="60.0" height="63.2" rx="10" fill="none" stroke="#4aaca5" stroke-width="1.2"/>
</svg>
<div class="t" id="title">PROTEIN SOURCES DIFFER</div>
<div class="t" id="sub">Most so-called complete proteins come from animal sources</div>
<div class="t h" id="hq" style="left:367px;letter-spacing:0.33px">Quality</div>
<div class="t h" id="hc" style="left:459.7px;transform:scaleX(1.03);transform-origin:0 0">Complete</div>
<div class="t h" id="hn" style="left:567.4px;transform:scaleX(0.927);transform-origin:0 0">Nonallergenic</div>
<div class="t sp" style="left:429px">a</div>
<div class="t sp" style="left:543.6px">b</div>
<div class="t sp" style="left:674.6px">c</div>
<div class="ul" style="left:363px;width:66px"></div>
<div class="ul" style="left:457px;width:88px"></div>
<div class="ul" style="left:564px;width:120.5px"></div>
<div class="t name" style="top:91.37px">Whey protein isolate</div>
<div class="t val" style="top:91.37px">1.00</div>
<svg class="mk" style="left:494px;top:88.30px" width="20" height="19" viewBox="0 0 20 19"><path d="M0.3,11.6 L2.6,10.2 L5.3,13.9 C8.5,8.6 12.6,4.2 18.9,0.2 L19.4,0.8 C13.8,5.4 9.6,11.2 5.9,18.0 L4.3,18.1 Z" fill="#1b9fa5"/></svg>
<svg class="mk" style="left:617.8px;top:93.80px" width="14" height="13" viewBox="0 0 14 13"><g stroke="#ad1220" stroke-linecap="round" fill="none"><path d="M3.3,1.2 L11.9,10.3" stroke-width="3"/><path d="M12.2,3.0 L1.6,10.8" stroke-width="2.6"/></g></svg>
<div class="sep" style="top:112px"></div>
<div class="t name" style="top:117.65px">Casein</div>
<div class="t val" style="top:117.65px">1.00</div>
<svg class="mk" style="left:494px;top:114.58px" width="20" height="19" viewBox="0 0 20 19"><path d="M0.3,11.6 L2.6,10.2 L5.3,13.9 C8.5,8.6 12.6,4.2 18.9,0.2 L19.4,0.8 C13.8,5.4 9.6,11.2 5.9,18.0 L4.3,18.1 Z" fill="#1b9fa5"/></svg>
<svg class="mk" style="left:617.8px;top:120.08px" width="14" height="13" viewBox="0 0 14 13"><g stroke="#ad1220" stroke-linecap="round" fill="none"><path d="M3.3,1.2 L11.9,10.3" stroke-width="3"/><path d="M12.2,3.0 L1.6,10.8" stroke-width="2.6"/></g></svg>
<div class="sep" style="top:138px"></div>
<div class="t name" style="top:143.93px">Soy protein isolate</div>
<div class="t val" style="top:143.93px">1.00</div>
<svg class="mk" style="left:494px;top:140.86px" width="20" height="19" viewBox="0 0 20 19"><path d="M0.3,11.6 L2.6,10.2 L5.3,13.9 C8.5,8.6 12.6,4.2 18.9,0.2 L19.4,0.8 C13.8,5.4 9.6,11.2 5.9,18.0 L4.3,18.1 Z" fill="#1b9fa5"/></svg>
<svg class="mk" style="left:617.8px;top:146.36px" width="14" height="13" viewBox="0 0 14 13"><g stroke="#ad1220" stroke-linecap="round" fill="none"><path d="M3.3,1.2 L11.9,10.3" stroke-width="3"/><path d="M12.2,3.0 L1.6,10.8" stroke-width="2.6"/></g></svg>
<div class="sep" style="top:165px"></div>
<div class="t name" style="top:170.21px">Egg white powder</div>
<div class="t val" style="top:170.21px">1.00</div>
<svg class="mk" style="left:494px;top:167.14px" width="20" height="19" viewBox="0 0 20 19"><path d="M0.3,11.6 L2.6,10.2 L5.3,13.9 C8.5,8.6 12.6,4.2 18.9,0.2 L19.4,0.8 C13.8,5.4 9.6,11.2 5.9,18.0 L4.3,18.1 Z" fill="#1b9fa5"/></svg>
<svg class="mk" style="left:617.8px;top:172.64px" width="14" height="13" viewBox="0 0 14 13"><g stroke="#ad1220" stroke-linecap="round" fill="none"><path d="M3.3,1.2 L11.9,10.3" stroke-width="3"/><path d="M12.2,3.0 L1.6,10.8" stroke-width="2.6"/></g></svg>
<div class="sep" style="top:191px"></div>
<div class="t name" style="top:196.49px">Beef</div>
<div class="t val" style="top:196.49px">0.92</div>
<svg class="mk" style="left:494px;top:193.42px" width="20" height="19" viewBox="0 0 20 19"><path d="M0.3,11.6 L2.6,10.2 L5.3,13.9 C8.5,8.6 12.6,4.2 18.9,0.2 L19.4,0.8 C13.8,5.4 9.6,11.2 5.9,18.0 L4.3,18.1 Z" fill="#1b9fa5"/></svg>
<svg class="mk" style="left:618px;top:193.42px" width="20" height="19" viewBox="0 0 20 19"><path d="M0.3,11.6 L2.6,10.2 L5.3,13.9 C8.5,8.6 12.6,4.2 18.9,0.2 L19.4,0.8 C13.8,5.4 9.6,11.2 5.9,18.0 L4.3,18.1 Z" fill="#1b9fa5"/></svg>
<div class="sep" style="top:217px"></div>
<div class="t name" style="top:222.77px">Chicken</div>
<div class="t val" style="top:222.77px">0.92</div>
<svg class="mk" style="left:494px;top:219.70px" width="20" height="19" viewBox="0 0 20 19"><path d="M0.3,11.6 L2.6,10.2 L5.3,13.9 C8.5,8.6 12.6,4.2 18.9,0.2 L19.4,0.8 C13.8,5.4 9.6,11.2 5.9,18.0 L4.3,18.1 Z" fill="#1b9fa5"/></svg>
<svg class="mk" style="left:618px;top:219.70px" width="20" height="19" viewBox="0 0 20 19"><path d="M0.3,11.6 L2.6,10.2 L5.3,13.9 C8.5,8.6 12.6,4.2 18.9,0.2 L19.4,0.8 C13.8,5.4 9.6,11.2 5.9,18.0 L4.3,18.1 Z" fill="#1b9fa5"/></svg>
<div class="sep" style="top:244px"></div>
<div class="t name" style="top:249.05px">Pea protein isolate</div>
<div class="t val" style="top:249.05px">0.82</div>
<svg class="mk" style="left:493.6px;top:251.48px" width="14" height="13" viewBox="0 0 14 13"><g stroke="#ad1220" stroke-linecap="round" fill="none"><path d="M3.3,1.2 L11.9,10.3" stroke-width="3"/><path d="M12.2,3.0 L1.6,10.8" stroke-width="2.6"/></g></svg>
<svg class="mk" style="left:618px;top:245.98px" width="20" height="19" viewBox="0 0 20 19"><path d="M0.3,11.6 L2.6,10.2 L5.3,13.9 C8.5,8.6 12.6,4.2 18.9,0.2 L19.4,0.8 C13.8,5.4 9.6,11.2 5.9,18.0 L4.3,18.1 Z" fill="#1b9fa5"/></svg>
<div class="sep" style="top:270px"></div>
<div class="t name" style="top:275.33px">Canned lentils</div>
<div class="t val" style="top:275.33px">0.52</div>
<svg class="mk" style="left:493.6px;top:277.76px" width="14" height="13" viewBox="0 0 14 13"><g stroke="#ad1220" stroke-linecap="round" fill="none"><path d="M3.3,1.2 L11.9,10.3" stroke-width="3"/><path d="M12.2,3.0 L1.6,10.8" stroke-width="2.6"/></g></svg>
<svg class="mk" style="left:618px;top:272.26px" width="20" height="19" viewBox="0 0 20 19"><path d="M0.3,11.6 L2.6,10.2 L5.3,13.9 C8.5,8.6 12.6,4.2 18.9,0.2 L19.4,0.8 C13.8,5.4 9.6,11.2 5.9,18.0 L4.3,18.1 Z" fill="#1b9fa5"/></svg>
<div class="sep" style="top:296px"></div>
<div class="t name" style="top:301.61px">Hemp seed</div>
<div class="t val" style="top:301.61px">0.51</div>
<svg class="mk" style="left:493.6px;top:304.04px" width="14" height="13" viewBox="0 0 14 13"><g stroke="#ad1220" stroke-linecap="round" fill="none"><path d="M3.3,1.2 L11.9,10.3" stroke-width="3"/><path d="M12.2,3.0 L1.6,10.8" stroke-width="2.6"/></g></svg>
<svg class="mk" style="left:618px;top:298.54px" width="20" height="19" viewBox="0 0 20 19"><path d="M0.3,11.6 L2.6,10.2 L5.3,13.9 C8.5,8.6 12.6,4.2 18.9,0.2 L19.4,0.8 C13.8,5.4 9.6,11.2 5.9,18.0 L4.3,18.1 Z" fill="#1b9fa5"/></svg>
<div class="sep" style="top:322px"></div>
<div class="t name" style="top:327.89px">Whole algal protein</div>
<div class="t val" style="top:327.89px">0.51</div>
<svg class="mk" style="left:493.6px;top:330.32px" width="14" height="13" viewBox="0 0 14 13"><g stroke="#ad1220" stroke-linecap="round" fill="none"><path d="M3.3,1.2 L11.9,10.3" stroke-width="3"/><path d="M12.2,3.0 L1.6,10.8" stroke-width="2.6"/></g></svg>
<svg class="mk" style="left:618px;top:324.82px" width="20" height="19" viewBox="0 0 20 19"><path d="M0.3,11.6 L2.6,10.2 L5.3,13.9 C8.5,8.6 12.6,4.2 18.9,0.2 L19.4,0.8 C13.8,5.4 9.6,11.2 5.9,18.0 L4.3,18.1 Z" fill="#1b9fa5"/></svg>
<div class="sep" style="top:349px"></div>
<div class="t name" style="top:354.17px">Wheat gluten</div>
<div class="t val" style="top:354.17px">0.25</div>
<svg class="mk" style="left:493.6px;top:356.60px" width="14" height="13" viewBox="0 0 14 13"><g stroke="#ad1220" stroke-linecap="round" fill="none"><path d="M3.3,1.2 L11.9,10.3" stroke-width="3"/><path d="M12.2,3.0 L1.6,10.8" stroke-width="2.6"/></g></svg>
<svg class="mk" style="left:617.8px;top:356.60px" width="14" height="13" viewBox="0 0 14 13"><g stroke="#ad1220" stroke-linecap="round" fill="none"><path d="M3.3,1.2 L11.9,10.3" stroke-width="3"/><path d="M12.2,3.0 L1.6,10.8" stroke-width="2.6"/></g></svg>
<div class="t fn" id="fn1" style="top:390.8px;letter-spacing:0.33px"><b>a</b> Quality is measured by the protein digestibility-corrected amino acid score, or PDCAAS, a measurement of</div>
<div class="t fn" id="fn2" style="top:406.2px;letter-spacing:0.41px">amino acid content and protein digestibility. <b>b</b> “Complete” proteins provide required amounts of the nine es-</div>
<div class="t fn" id="fn3" style="top:421.2px;letter-spacing:0.26px">sential amino acids. <b>c</b> Common allergens are noted; other protein allergens are rare. <b>SOURCES:</b> UN Food &amp;</div>
<div class="t fn" id="fn4" style="top:437.1px;letter-spacing:0.24px">Agriculture Organization; DuPont; Roquette; Solazyme; <i>J. Agric. Food Chem.</i> 2010, DOI: 10.1021/jf102636b</div>
</body></html>
